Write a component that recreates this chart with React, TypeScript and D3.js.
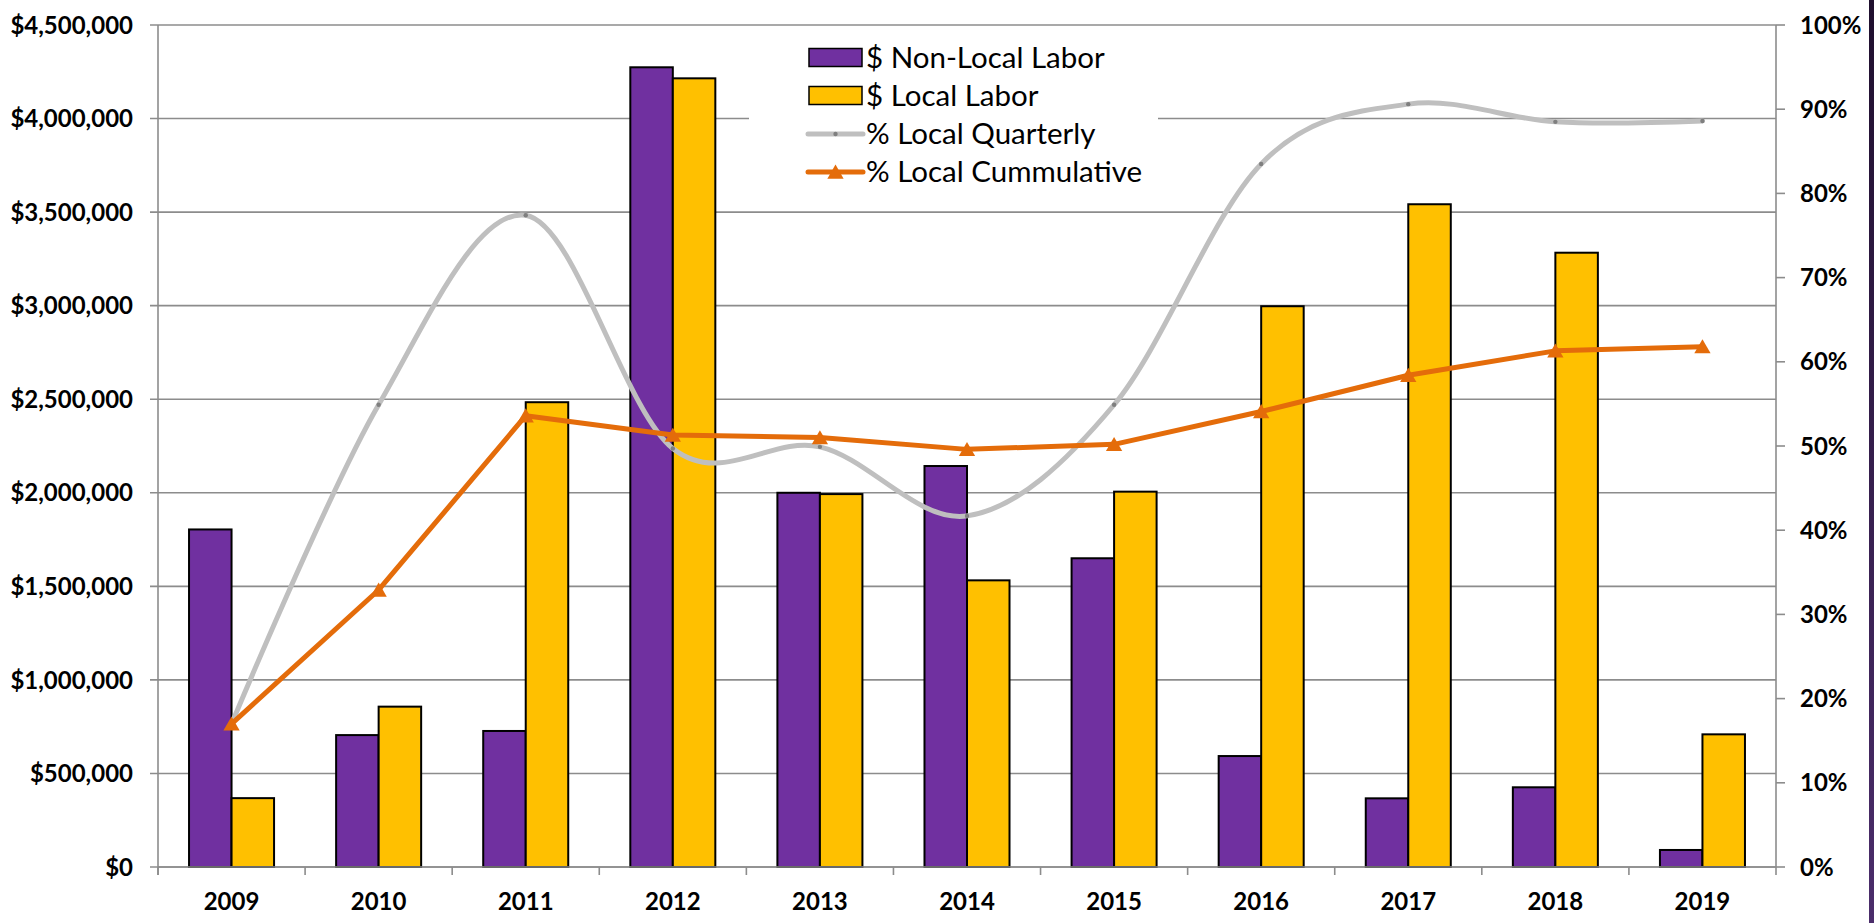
import React from "react";
import * as d3 from "d3";

const years = ["2009", "2010", "2011", "2012", "2013", "2014", "2015", "2016", "2017", "2018", "2019"];
const nonLocalLabor = [1804000, 705000, 727000, 4274000, 2000000, 2143000, 1650000, 593000, 367000, 426000, 91000];
const localLabor = [368000, 857000, 2484000, 4215000, 1993000, 1532000, 2006000, 2997000, 3542000, 3283000, 709000];
const pctQuarterly = [0.170, 0.549, 0.774, 0.497, 0.499, 0.417, 0.549, 0.835, 0.906, 0.885, 0.886];
const pctCumulative = [0.170, 0.329, 0.536, 0.513, 0.510, 0.496, 0.502, 0.541, 0.584, 0.613, 0.618];
const leftTicks = [0, 500000, 1000000, 1500000, 2000000, 2500000, 3000000, 3500000, 4000000, 4500000];
const rightTicks = [0, 0.1, 0.2, 0.3, 0.4, 0.5, 0.6, 0.7, 0.8, 0.9, 1.0];
const legendLabels = ["$ Non-Local Labor", "$ Local Labor", "% Local Quarterly", "% Local Cummulative"];

const W = 1874, H = 923;
const L = 158, R = 1776, T = 25, B = 867;
const PURPLE = "#7030A0", YELLOW = "#FFC000", GRAY = "#BFBFBF", ORANGE = "#E46C0A", GRID = "#8c8c8c";
const FONT = "Lato, 'Open Sans', sans-serif";
const AX_FS = 24;
const LEG_FS = 29.5;

export default function App() {
  const x0 = d3.scaleBand<string>().domain(years).range([L, R]).paddingInner(0).paddingOuter(0);
  const bw = x0.bandwidth();
  const groupW = bw * 0.578;
  const x1 = d3.scaleBand<string>().domain(["nl", "l"]).range([0, groupW]);
  const yL = d3.scaleLinear().domain([0, 4500000]).range([B, T]);
  const yR = d3.scaleLinear().domain([0, 1]).range([B, T]);
  const cx = (y: string) => (x0(y) as number) + bw / 2;
  const fmtMoney = (v: number) => "$" + d3.format(",")(v);
  const fmtPct = d3.format(".0%");

  const quarterlyPts: [number, number][] = years.map((y, i) => [cx(y), yR(pctQuarterly[i])]);
  const cumulativePts: [number, number][] = years.map((y, i) => [cx(y), yR(pctCumulative[i])]);
  const smooth = d3.line().curve(d3.curveCardinal.tension(0))(quarterlyPts) as string;
  const straight = d3.line()(cumulativePts) as string;
  const tri = d3.symbol().type(d3.symbolTriangle).size(115)() as string;

  const legX = 808, legTextX = 866;
  const legY = [57.5, 95.5, 134, 172];
  const axOff = AX_FS * 0.36;
  const legOff = LEG_FS * 0.34;

  return (
    <svg width={W} height={H} style={{ position: "absolute", left: 0, top: 0, background: "#fff" }} fontFamily={FONT}>
      <defs>
        <linearGradient id="edge" x1="0" y1="0" x2="0" y2="1">
          <stop offset="0" stopColor="#1f0f2e" />
          <stop offset="1" stopColor="#4b2d6b" />
        </linearGradient>
      </defs>
      <rect x={1869} y={0} width={5} height={H} fill="url(#edge)" />
      {leftTicks.map((t) => (
        <line key={"g" + t} x1={150} x2={R} y1={yL(t)} y2={yL(t)} stroke={GRID} strokeWidth={1.6} />
      ))}
      {years.map((y, i) => {
        const gx = (x0(y) as number) + (bw - groupW) / 2;
        return (
          <g key={"b" + y}>
            <rect x={gx + (x1("nl") as number)} y={yL(nonLocalLabor[i])} width={x1.bandwidth()} height={B - yL(nonLocalLabor[i])} fill={PURPLE} stroke="#000" strokeWidth={2} />
            <rect x={gx + (x1("l") as number)} y={yL(localLabor[i])} width={x1.bandwidth()} height={B - yL(localLabor[i])} fill={YELLOW} stroke="#000" strokeWidth={2} />
          </g>
        );
      })}
      <line x1={L} x2={L} y1={T} y2={B + 8} stroke={GRID} strokeWidth={1.6} />
      <line x1={R} x2={R} y1={T} y2={B + 8} stroke={GRID} strokeWidth={1.6} />
      <line x1={L} x2={R} y1={B} y2={B} stroke={GRID} strokeWidth={1.6} />
      {years.map((y) => (
        <line key={"xt" + y} x1={x0(y) as number} x2={x0(y) as number} y1={B} y2={B + 8} stroke={GRID} strokeWidth={1.6} />
      ))}
      {rightTicks.map((t) => (
        <line key={"rt" + t} x1={R} x2={R + 9} y1={yR(t)} y2={yR(t)} stroke={GRID} strokeWidth={1.6} />
      ))}
      <path d={smooth} fill="none" stroke={GRAY} strokeWidth={5} strokeLinecap="round" />
      {quarterlyPts.map((p, i) => (
        <circle key={"qd" + i} cx={p[0]} cy={p[1]} r={2.2} fill="#7f7f7f" />
      ))}
      <path d={straight} fill="none" stroke={ORANGE} strokeWidth={5} strokeLinejoin="round" />
      {cumulativePts.map((p, i) => (
        <path key={"ct" + i} d={tri} transform={`translate(${p[0]},${p[1] + 2})`} fill={ORANGE} />
      ))}
      {leftTicks.map((t) => (
        <text key={"ll" + t} x={133} y={yL(t) + axOff} textAnchor="end" fontWeight="bold" fontSize={AX_FS} fill="#000">{fmtMoney(t)}</text>
      ))}
      {rightTicks.map((t) => (
        <text key={"rl" + t} x={1800} y={yR(t) + axOff} textAnchor="start" fontWeight="bold" fontSize={AX_FS} fill="#000">{fmtPct(t)}</text>
      ))}
      {years.map((y) => (
        <text key={"xl" + y} x={cx(y)} y={910} textAnchor="middle" fontWeight="bold" fontSize={AX_FS} fill="#000">{y}</text>
      ))}
      <rect x={749} y={32} width={409} height={158} fill="#fff" />
      <rect x={legX + 1} y={legY[0] - 9} width={53} height={18} fill={PURPLE} stroke="#000" strokeWidth={1.5} />
      <rect x={legX + 1} y={legY[1] - 9} width={53} height={18} fill={YELLOW} stroke="#000" strokeWidth={1.5} />
      <line x1={legX} x2={legX + 55} y1={legY[2]} y2={legY[2]} stroke={GRAY} strokeWidth={5} strokeLinecap="round" />
      <circle cx={legX + 27.5} cy={legY[2]} r={2.2} fill="#7f7f7f" />
      <line x1={legX} x2={legX + 55} y1={legY[3]} y2={legY[3]} stroke={ORANGE} strokeWidth={5} strokeLinecap="round" />
      <path d={tri} transform={`translate(${legX + 27.5},${legY[3] + 2})`} fill={ORANGE} />
      {legendLabels.map((s, i) => (
        <text key={"lg" + i} x={legTextX} y={legY[i] + legOff} fontSize={LEG_FS} fill="#000">{s}</text>
      ))}
    </svg>
  );
}
